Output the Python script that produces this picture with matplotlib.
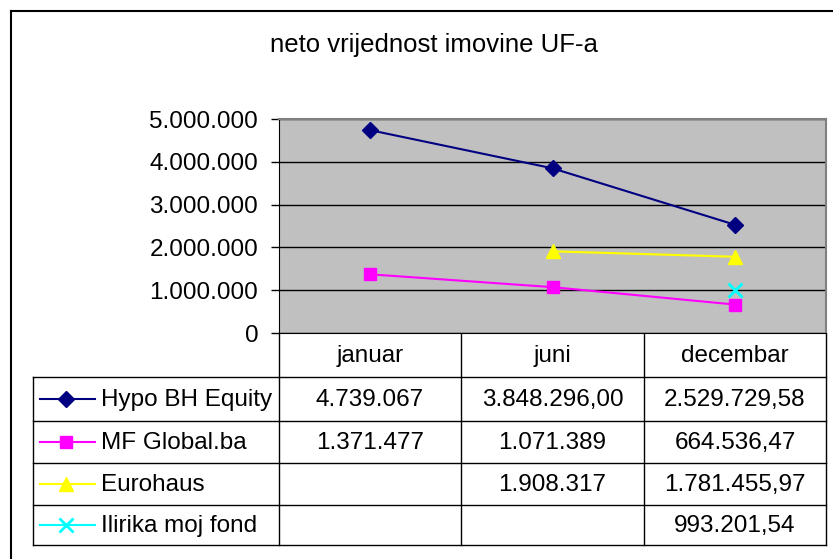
"""Line chart with Excel-style data table: neto vrijednost imovine UF-a."""

import matplotlib.pyplot as plt
import numpy as np

plt.rcParams["font.family"] = ["Liberation Sans", "DejaVu Sans"]

# Data
categories = ["januar", "juni", "decembar"]
series_names = ["Hypo BH Equity", "MF Global.ba", "Eurohaus", "Ilirika moj fond"]
hypo = [4739067, 3848296.00, 2529729.58]
mf_global = [1371477, 1071389, 664536.47]
eurohaus = [np.nan, 1908317, 1781455.97]
ilirika = [np.nan, np.nan, 993201.54]
table_text = [
    ["4.739.067", "3.848.296,00", "2.529.729,58"],
    ["1.371.477", "1.071.389", "664.536,47"],
    ["", "1.908.317", "1.781.455,97"],
    ["", "", "993.201,54"],
]
y_ticks = [0, 1000000, 2000000, 3000000, 4000000, 5000000]
y_tick_labels = ["0", "1.000.000", "2.000.000", "3.000.000", "4.000.000", "5.000.000"]

styles = [
    dict(color="#000080", marker="D", ms=8.5),
    dict(color="#FF00FF", marker="s", ms=8.5),
    dict(color="#FFFF00", marker="^", ms=10.5),
    dict(color="#00FFFF", marker="x", ms=9.5, mew=2),
]
FS = 17.5

W, H = 833, 559
fig = plt.figure(figsize=(W / 100, H / 100), dpi=100)

# background canvas in pixel coordinates for frame and table
bg = fig.add_axes([0, 0, 1, 1])
bg.set_xlim(0, W)
bg.set_ylim(H, 0)
bg.axis("off")

# plot area (pixel box)
px0, px1, py_top, py_bot = 279, 826, 119, 333
ax = fig.add_axes([px0 / W, 1 - py_bot / H, (px1 - px0) / W, (py_bot - py_top) / H])
ax.set_facecolor("#C0C0C0")
x = np.arange(len(categories))
for vals, st in zip([hypo, mf_global, eurohaus, ilirika], styles):
    ax.plot(x, vals, lw=1.5, zorder=3, **st)
ax.set_xlim(-0.5, len(categories) - 0.5)
ax.set_ylim(0, 5000000)
ax.set_yticks(y_ticks)
ax.set_yticklabels(y_tick_labels, fontsize=FS)
ax.set_xticks([])
ax.tick_params(axis="y", direction="out", length=6, width=1, pad=9)
ax.grid(axis="y", color="black", lw=1)
for side in ["top", "right"]:
    ax.spines[side].set_color("#808080")
    ax.spines[side].set_linewidth(1.5)
ax.spines["left"].set_color("black")
ax.spines["bottom"].set_color("black")

# outer chart frame (left and top visible)
bg.plot([11, 11], [11, H], color="black", lw=1.5)
bg.plot([11, W], [11, 11], color="black", lw=1.5)

bg.text(434, 45, "neto vrijednost imovine UF-a", fontsize=18.5, ha="center", va="center")

# data table
col_edges = [279, 461, 644, 826]
row_edges = [377, 421, 463, 505, 545]
lab_left = 33
line_kw = dict(color="black", lw=1)
for xe in col_edges:
    bg.plot([xe, xe], [py_bot, row_edges[-1]], **line_kw)
bg.plot([lab_left, lab_left], [row_edges[0], row_edges[-1]], **line_kw)
for ye in row_edges:
    bg.plot([lab_left, col_edges[-1]], [ye, ye], **line_kw)

col_centers = [(a + b) / 2 for a, b in zip(col_edges[:-1], col_edges[1:])]
for cx, cat in zip(col_centers, categories):
    bg.text(cx, (py_bot + row_edges[0]) / 2 + 1, cat, fontsize=FS, ha="center", va="center")

for i, (name, st) in enumerate(zip(series_names, styles)):
    cy = (row_edges[i] + row_edges[i + 1]) / 2
    bg.plot([40, 95], [cy, cy], color=st["color"], lw=1.5)
    bg.plot([66], [cy], ls="none", **st)
    bg.text(101, cy + 1, name, fontsize=FS, ha="left", va="center")
    for cx, txt in zip(col_centers, table_text[i]):
        bg.text(cx, cy + 1, txt, fontsize=FS, ha="center", va="center")

fig.savefig("out.png", dpi=100)
